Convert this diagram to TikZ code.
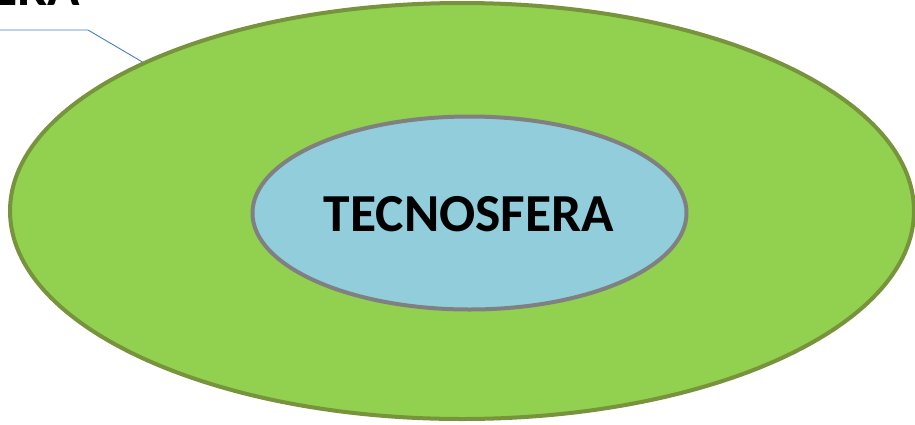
\documentclass[tikz,border=0pt]{standalone}
\usepackage{fontspec}
\setmainfont{Carlito}
\usetikzlibrary{shapes.geometric}
\definecolor{outerfill}{HTML}{92D050}
\definecolor{outerline}{HTML}{77933C}
\definecolor{innerfill}{HTML}{92CDDC}
\definecolor{innerline}{HTML}{808080}
\definecolor{callout}{HTML}{4A7EBB}
\tikzset{
  sphere/.style={ellipse, inner sep=0pt, line width=4pt},
  bigtext/.style={font=\fontsize{53.5}{60}\selectfont\bfseries, text=black},
}
\begin{document}
\begin{tikzpicture}[x=1pt,y=-1pt]
\useasboundingbox (0,0) rectangle (915,424);
\clip (0,0) rectangle (915,424);
\node[sphere, draw=outerline, fill=outerfill, minimum width=904pt, minimum height=416pt] (outer) at (462,211) {};
\node[sphere, draw=innerline, fill=innerfill, minimum width=434pt, minimum height=193pt] (inner) at (469.5,213) {};
\node[bigtext, anchor=center] (tecno) at (469,214) {TECNOSFERA};
\node[bigtext, anchor=base east, inner sep=0pt] (bio) at (80,5) {ERA};
\coordinate (c0) at (0,30);
\coordinate (c1) at (88,30);
\draw[callout, line width=0.9pt] (c0) -- (c1) -- (outer.155.3);
\end{tikzpicture}
\end{document}
